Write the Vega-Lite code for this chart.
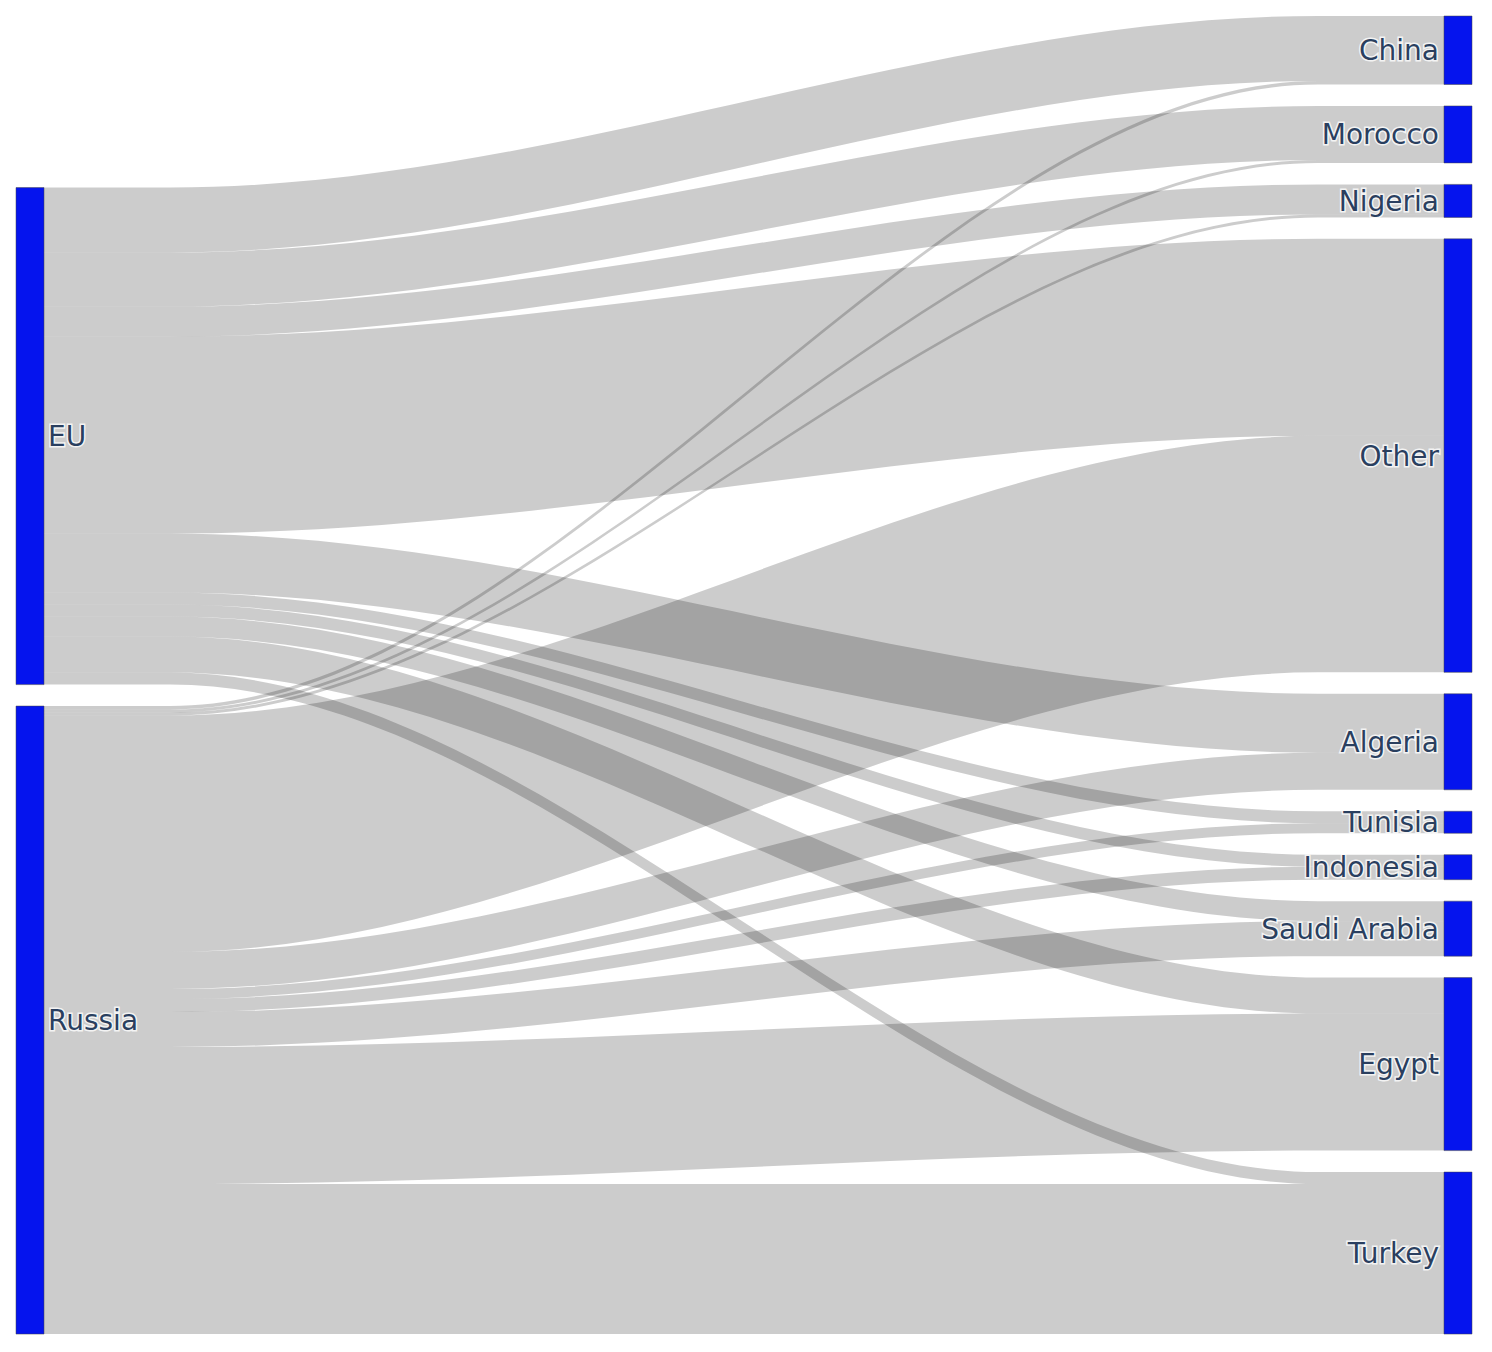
{
  "$schema": "https://vega.github.io/schema/vega-lite/v6.json",
  "width": 1492,
  "height": 1352,
  "padding": 0,
  "autosize": {"type": "none"},
  "background": "white",
  "config": {"view": {"stroke": null}},
  "data": {
    "values": [
      {"source": "EU", "target": "China", "value": 65},
      {"source": "EU", "target": "Morocco", "value": 54},
      {"source": "EU", "target": "Nigeria", "value": 30},
      {"source": "EU", "target": "Other", "value": 197},
      {"source": "EU", "target": "Algeria", "value": 59},
      {"source": "EU", "target": "Tunisia", "value": 12},
      {"source": "EU", "target": "Indonesia", "value": 12},
      {"source": "EU", "target": "Saudi Arabia", "value": 20},
      {"source": "EU", "target": "Egypt", "value": 36},
      {"source": "EU", "target": "Turkey", "value": 12},
      {"source": "Russia", "target": "China", "value": 3.5},
      {"source": "Russia", "target": "Morocco", "value": 3},
      {"source": "Russia", "target": "Nigeria", "value": 3},
      {"source": "Russia", "target": "Other", "value": 236.5},
      {"source": "Russia", "target": "Algeria", "value": 37},
      {"source": "Russia", "target": "Tunisia", "value": 10},
      {"source": "Russia", "target": "Indonesia", "value": 13},
      {"source": "Russia", "target": "Saudi Arabia", "value": 35},
      {"source": "Russia", "target": "Egypt", "value": 137},
      {"source": "Russia", "target": "Turkey", "value": 150}
    ]
  },
  "transform": [
    {"calculate": "indexof(['EU','Russia'], datum.source)", "as": "si"},
    {"calculate": "indexof(['China','Morocco','Nigeria','Other','Algeria','Tunisia','Indonesia','Saudi Arabia','Egypt','Turkey'], datum.target)", "as": "ti"},
    {"window": [{"op": "sum", "field": "value", "as": "cumS"}], "sort": [{"field": "si"}, {"field": "ti"}], "frame": [null, 0]},
    {"window": [{"op": "sum", "field": "value", "as": "cumT"}], "sort": [{"field": "ti"}, {"field": "si"}], "frame": [null, 0]},
    {"calculate": "datum.cumS + 21.45 * (datum.si + 8)", "as": "ys1"},
    {"calculate": "datum.ys1 - datum.value", "as": "ys0"},
    {"calculate": "datum.cumT + 21.45 * datum.ti", "as": "yt1"},
    {"calculate": "datum.yt1 - datum.value", "as": "yt0"}
  ],
  "layer": [
    {
      "transform": [
        {"calculate": "[0, 0.09, 0.91, 1]", "as": "t"},
        {"flatten": ["t"]},
        {"calculate": "datum.t < 0.5 ? datum.ys0 : datum.yt0", "as": "top"},
        {"calculate": "datum.t < 0.5 ? datum.ys1 : datum.yt1", "as": "bot"},
        {"calculate": "datum.source + ' to ' + datum.target", "as": "link"}
      ],
      "mark": {"type": "area", "interpolate": "monotone", "fill": "#000000", "fillOpacity": 0.2},
      "encoding": {
        "x": {"field": "t", "type": "quantitative", "scale": {"domain": [-0.031429, 1.034286], "nice": false, "zero": false}, "axis": null},
        "y": {"field": "top", "type": "quantitative", "stack": null, "scale": {"domain": [-16, 1336], "reverse": true, "nice": false, "zero": false}, "axis": null},
        "y2": {"field": "bot"},
        "detail": {"field": "link", "type": "nominal"}
      }
    },
    {
      "transform": [
        {"aggregate": [{"op": "min", "field": "ys0", "as": "n0"}, {"op": "max", "field": "ys1", "as": "n1"}], "groupby": ["source"]}
      ],
      "mark": {"type": "rect", "fill": "#0514ee", "stroke": "#444444", "strokeWidth": 0.5},
      "encoding": {
        "x": {"datum": -0.02, "type": "quantitative"},
        "x2": {"datum": 0},
        "y": {"field": "n0", "type": "quantitative"},
        "y2": {"field": "n1"}
      }
    },
    {
      "transform": [
        {"aggregate": [{"op": "min", "field": "yt0", "as": "n0"}, {"op": "max", "field": "yt1", "as": "n1"}], "groupby": ["target"]}
      ],
      "mark": {"type": "rect", "fill": "#0514ee", "stroke": "#444444", "strokeWidth": 0.5},
      "encoding": {
        "x": {"datum": 1, "type": "quantitative"},
        "x2": {"datum": 1.02},
        "y": {"field": "n0", "type": "quantitative"},
        "y2": {"field": "n1"}
      }
    },
    {
      "transform": [
        {"aggregate": [{"op": "min", "field": "ys0", "as": "n0"}, {"op": "max", "field": "ys1", "as": "n1"}], "groupby": ["source"]},
        {"calculate": "(datum.n0 + datum.n1) / 2", "as": "mid"}
      ],
      "mark": {"type": "text", "align": "left", "baseline": "middle", "dx": 4, "dy": 2, "font": "DejaVu Sans", "fontSize": 28, "fill": "#ffffff", "stroke": "#ffffff", "strokeWidth": 3, "strokeOpacity": 0.8},
      "encoding": {
        "x": {"datum": 0, "type": "quantitative"},
        "y": {"field": "mid", "type": "quantitative"},
        "text": {"field": "source"}
      }
    },
    {
      "transform": [
        {"aggregate": [{"op": "min", "field": "ys0", "as": "n0"}, {"op": "max", "field": "ys1", "as": "n1"}], "groupby": ["source"]},
        {"calculate": "(datum.n0 + datum.n1) / 2", "as": "mid"}
      ],
      "mark": {"type": "text", "align": "left", "baseline": "middle", "dx": 4, "dy": 2, "font": "DejaVu Sans", "fontSize": 28, "fill": "#2a3f5f"},
      "encoding": {
        "x": {"datum": 0, "type": "quantitative"},
        "y": {"field": "mid", "type": "quantitative"},
        "text": {"field": "source"}
      }
    },
    {
      "transform": [
        {"aggregate": [{"op": "min", "field": "yt0", "as": "n0"}, {"op": "max", "field": "yt1", "as": "n1"}], "groupby": ["target"]},
        {"calculate": "(datum.n0 + datum.n1) / 2", "as": "mid"}
      ],
      "mark": {"type": "text", "align": "right", "baseline": "middle", "dx": -5, "dy": 2, "font": "DejaVu Sans", "fontSize": 28, "fill": "#ffffff", "stroke": "#ffffff", "strokeWidth": 3, "strokeOpacity": 0.8},
      "encoding": {
        "x": {"datum": 1, "type": "quantitative"},
        "y": {"field": "mid", "type": "quantitative"},
        "text": {"field": "target"}
      }
    },
    {
      "transform": [
        {"aggregate": [{"op": "min", "field": "yt0", "as": "n0"}, {"op": "max", "field": "yt1", "as": "n1"}], "groupby": ["target"]},
        {"calculate": "(datum.n0 + datum.n1) / 2", "as": "mid"}
      ],
      "mark": {"type": "text", "align": "right", "baseline": "middle", "dx": -5, "dy": 2, "font": "DejaVu Sans", "fontSize": 28, "fill": "#2a3f5f"},
      "encoding": {
        "x": {"datum": 1, "type": "quantitative"},
        "y": {"field": "mid", "type": "quantitative"},
        "text": {"field": "target"}
      }
    }
  ]
}
